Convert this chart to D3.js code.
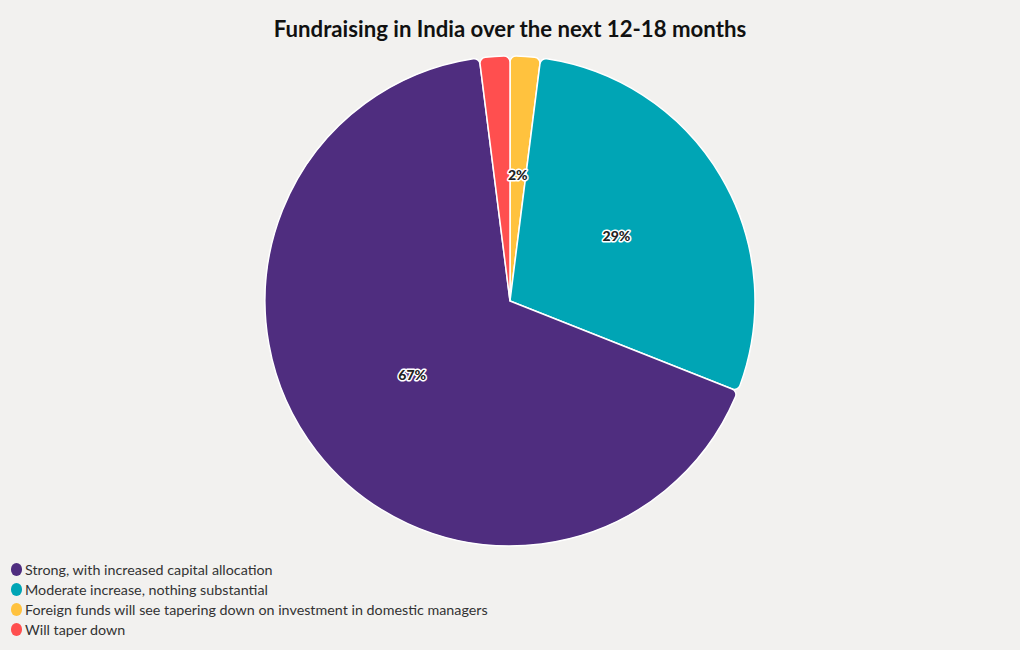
<!DOCTYPE html>
<html><head><meta charset="utf-8">
<script src="https://cdn.jsdelivr.net/npm/d3@7"></script>
<style>
html,body{margin:0;padding:0;background:#F2F1EF;}
svg{display:block;}
</style></head>
<body>
<svg id="chart" width="1020" height="650"></svg>
<script>
const categories = ["Strong, with increased capital allocation","Moderate increase, nothing substantial","Foreign funds will see tapering down on investment in domestic managers","Will taper down"];
const values = [67, 29, 2, 2];
const colors = ["#4F2D7F","#00A5B5","#FFC23E","#FF4F4F"];
// clockwise drawing order starting at 12 o'clock
const drawOrder = [2, 1, 0, 3];

const svg = d3.select("#chart");
const W = 1020, H = 650;
svg.append("rect").attr("width",W).attr("height",H).attr("fill","#F2F1EF");

svg.append("text").attr("x",510).attr("y",37).attr("text-anchor","middle")
  .attr("font-family","Lato, 'Noto Sans', sans-serif").attr("font-weight",700)
  .attr("font-size",22.2).attr("fill","#111").text("Fundraising in India over the next 12-18 months");

const cx = 510, cy = 301, R = 245;
const data = drawOrder.map(i => ({i, v: values[i]}));
const pie = d3.pie().value(d => d.v).sort(null);
const arcs = pie(data);
const arc = d3.arc().innerRadius(0).outerRadius(R).cornerRadius(6);
const labelArc = d3.arc().innerRadius(R*0.505).outerRadius(R*0.505);

const g = svg.append("g").attr("transform",`translate(${cx},${cy})`);
g.selectAll("path").data(arcs).join("path")
  .attr("d", arc).attr("fill", d => colors[d.data.i])
  .attr("stroke","#ffffff").attr("stroke-width",1.5).attr("stroke-linejoin","round");

g.selectAll("text.lbl").data(arcs).join("text").attr("class","lbl")
  .filter(d => d.data.i !== 3)
  .attr("transform", d => `translate(${labelArc.centroid(d)})`)
  .attr("text-anchor","middle").attr("dy","0.2em")
  .attr("font-family","Lato, 'Noto Sans', sans-serif").attr("font-weight",900)
  .attr("font-size",14).attr("fill","#222")
  .attr("stroke","#ffffff").attr("stroke-width",3).attr("paint-order","stroke")
  .attr("stroke-linejoin","round")
  .text(d => d.data.v + "%");

const leg = svg.append("g").attr("transform","translate(11,570)");
categories.forEach((c, k) => {
  const row = leg.append("g").attr("transform",`translate(0,${k*20})`);
  row.append("rect").attr("x",0).attr("y",-7).attr("width",11).attr("height",13)
    .attr("rx",5.5).attr("ry",6).attr("fill",colors[k]);
  row.append("text").attr("x",14).attr("y",0).attr("dy","0.35em")
    .attr("font-family","Lato, 'Noto Sans', sans-serif").attr("font-size",14.3)
    .attr("fill","#333").text(c);
});
</script>
</body></html>
